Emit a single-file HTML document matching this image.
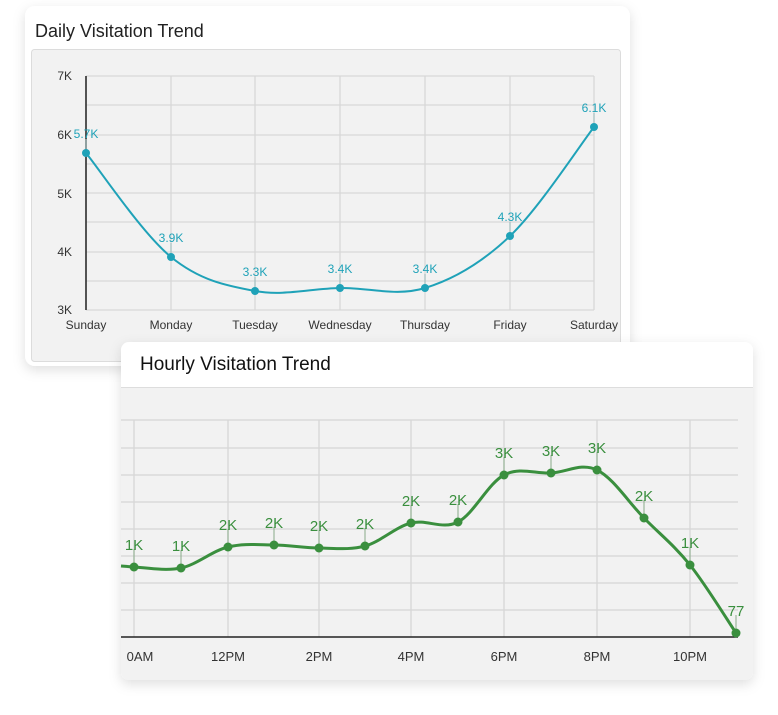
<!DOCTYPE html>
<html><head><meta charset="utf-8"><style>
body{margin:0;width:778px;height:715px;background:#fff;overflow:hidden;font-family:"Liberation Sans",sans-serif;}
svg{position:absolute;left:0;top:0}
</style></head><body>
<svg width="778" height="715" viewBox="0 0 778 715" xmlns="http://www.w3.org/2000/svg">
<defs>
<filter id="sh" x="-10%" y="-10%" width="120%" height="130%"><feDropShadow dx="0" dy="4" stdDeviation="6" flood-color="#000" flood-opacity="0.13"/></filter>
</defs>
<!-- Daily card -->
<rect x="25" y="6" width="605" height="360" rx="10" fill="#fff" filter="url(#sh)"/>
<text x="35" y="37" font-size="18" fill="#222">Daily Visitation Trend</text>
<rect x="31.5" y="49.5" width="589" height="312" rx="3" fill="#f2f2f2" stroke="#dcdcdc"/>
<g stroke="#d8d8d8" stroke-width="1.3" id="dg"></g>
<line x1="86" y1="76" x2="86" y2="310" stroke="#222" stroke-width="1.5"/>
<g font-size="12" fill="#333" text-anchor="end">
<text x="72" y="80">7K</text><text x="72" y="139">6K</text><text x="72" y="198">5K</text><text x="72" y="256">4K</text><text x="72" y="314">3K</text>
</g>
<g font-size="12" fill="#333" text-anchor="middle">
<text x="86" y="329">Sunday</text><text x="171" y="329">Monday</text><text x="255" y="329">Tuesday</text><text x="340" y="329">Wednesday</text><text x="425" y="329">Thursday</text><text x="510" y="329">Friday</text><text x="594" y="329">Saturday</text>
</g>
<path id="dp" fill="none" stroke="#1fa2b8" stroke-width="2"/>
<g id="dd"></g>
<!-- Hourly card -->
<rect x="121" y="342" width="632" height="338" rx="8" fill="#f2f2f2" filter="url(#sh)"/>
<path d="M121 387 V350 a8 8 0 0 1 8 -8 H745 a8 8 0 0 1 8 8 V387 Z" fill="#fff"/>
<line x1="121" y1="387.5" x2="753" y2="387.5" stroke="#ddd"/>
<text x="140" y="370" font-size="19" fill="#111">Hourly Visitation Trend</text>
<g stroke="#d6d6d6" stroke-width="1.3" id="hg"></g>
<line x1="121" y1="637" x2="738" y2="637" stroke="#222" stroke-width="1.5"/>
<g font-size="13" fill="#333" text-anchor="middle">
<text x="140" y="661">0AM</text><text x="228" y="661">12PM</text><text x="319" y="661">2PM</text><text x="411" y="661">4PM</text><text x="504" y="661">6PM</text><text x="597" y="661">8PM</text><text x="690" y="661">10PM</text>
</g>
<path id="hp" fill="none" stroke="#3a8f3e" stroke-width="3"/>
<g id="hd"></g>
</svg>
<script>
var NS="http://www.w3.org/2000/svg";
function el(p,t,a,txt){var e=document.createElementNS(NS,t);for(var k in a)e.setAttribute(k,a[k]);if(txt!=null)e.textContent=txt;p.appendChild(e);return e;}
function curve(pts,ext){var d="M"+pts[0][0]+" "+pts[0][1];for(var i=0;i<pts.length-1;i++){var p0=pts[i-1]||pts[i],p1=pts[i],p2=pts[i+1],p3=pts[i+2]||p2;var t=0.17;
d+=" C"+(p1[0]+(p2[0]-p0[0])*t)+" "+(p1[1]+(p2[1]-p0[1])*t)+" "+(p2[0]-(p3[0]-p1[0])*t)+" "+(p2[1]-(p3[1]-p1[1])*t)+" "+p2[0]+" "+p2[1];}return d;}
// daily
var dg=document.getElementById("dg");
[76,105,135,164,193,222,252,281,310].forEach(function(y){el(dg,"line",{x1:86,x2:594,y1:y,y2:y});});
var dx=[86,171,255,340,425,510,594];dx.forEach(function(x){el(dg,"line",{x1:x,x2:x,y1:76,y2:310});});
var dy=[153,257,291,288,288,236,127],dl=["5.7K","3.9K","3.3K","3.4K","3.4K","4.3K","6.1K"];
var dpts=dx.map(function(x,i){return[x,dy[i]];});
document.getElementById("dp").setAttribute("d",curve(dpts));
var dd=document.getElementById("dd");
dpts.forEach(function(p,i){el(dd,"line",{x1:p[0],x2:p[0],y1:p[1]-14,y2:p[1],stroke:"#9bb",["stroke-width"]:1});el(dd,"circle",{cx:p[0],cy:p[1],r:4,fill:"#1fa2b8"});el(dd,"text",{x:p[0],y:p[1]-15,"font-size":12,fill:"#1fa2b8","text-anchor":"middle"},dl[i]);});
// hourly
var hg=document.getElementById("hg");
[420,448,475,502,529,556,583,610].forEach(function(y){el(hg,"line",{x1:121,x2:738,y1:y,y2:y});});
[134,228,319,411,504,597,690].forEach(function(x){el(hg,"line",{x1:x,x2:x,y1:420,y2:637});});
var hx=[134,181,228,274,319,365,411,458,504,551,597,644,690,736];
var hy=[567,568,547,545,548,546,523,522,475,473,470,518,565,633];
var hl=["1K","1K","2K","2K","2K","2K","2K","2K","3K","3K","3K","2K","1K","77"];
var hpts=hx.map(function(x,i){return[x,hy[i]];});
document.getElementById("hp").setAttribute("d","M121 567 L134 567 "+curve(hpts).slice(1).replace(/^[^C]*/,"")) ;
document.getElementById("hp").setAttribute("d","M121 566 L"+curve(hpts).slice(1));
var hd=document.getElementById("hd");
hpts.forEach(function(p,i){el(hd,"line",{x1:p[0],x2:p[0],y1:p[1]-18,y2:p[1],stroke:"#8a8",["stroke-width"]:1});el(hd,"circle",{cx:p[0],cy:p[1],r:4.5,fill:"#3a8f3e"});el(hd,"text",{x:p[0],y:p[1]-17,"font-size":15,fill:"#3a8f3e","text-anchor":"middle"},hl[i]);});
</script>
</body></html>
